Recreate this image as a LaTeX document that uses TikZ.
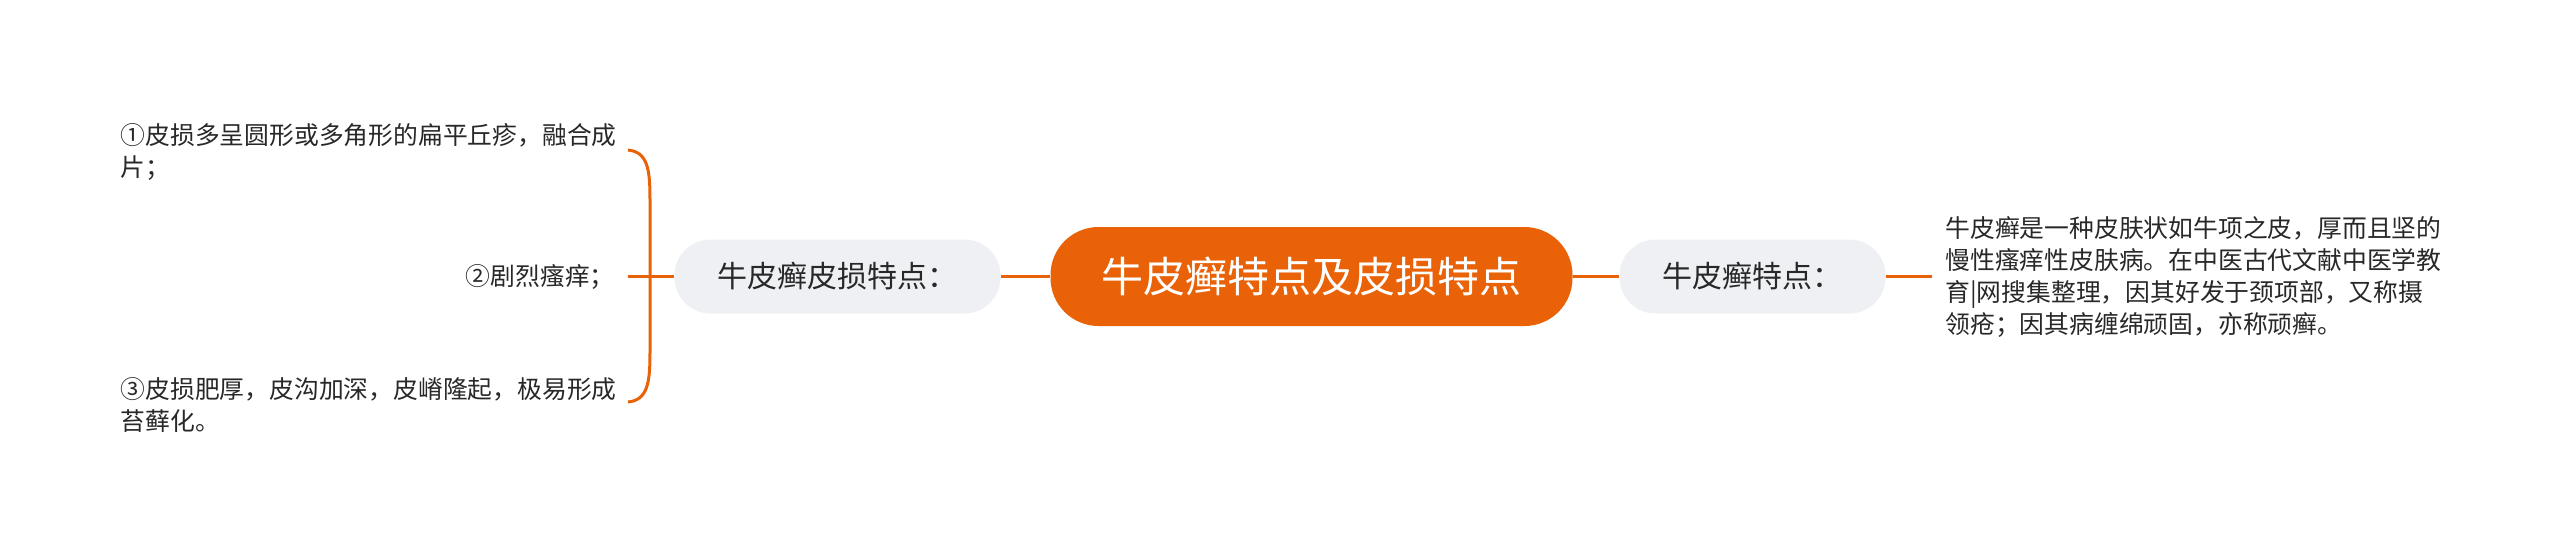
\documentclass[tikz,border=0pt]{standalone}
\usepackage{fontspec}
\usepackage{tikz}
\newfontfamily\cjk{Noto Sans CJK SC}
\definecolor{brand}{RGB}{233,98,8}
\definecolor{pale}{RGB}{238,240,243}
\definecolor{ink}{RGB}{40,40,40}

\begin{document}
\begin{tikzpicture}[x=0.5pt,y=-0.5pt,
    hub/.style={fill=brand, text=white, rounded corners=24pt, minimum height=49.5pt,
      inner xsep=25.5pt, font=\cjk\fontsize{21}{25}\selectfont},
    topic/.style={fill=pale, text=ink, rounded corners=18pt, minimum height=37pt,
      inner xsep=21.5pt, font=\cjk\fontsize{15}{18}\selectfont},
    leaf/.style={text=ink, align=left, inner sep=0pt, font=\cjk\fontsize{12.4}{16}\selectfont},
    link/.style={draw=brand, line width=1.5pt}]
      \useasboundingbox (0,0) rectangle (2560,553);
      \node (main) at (1311.5,276.5) [hub] {牛皮癣特点及皮损特点};
      \node (skin) at (837.5,276.5) [topic] {牛皮癣皮损特点：};
      \node (feat) at (1752.5,276.5) [topic] {牛皮癣特点：};
      \node (s1) at (617,151.5) [leaf, anchor=east] {①皮损多呈圆形或多角形的扁平丘疹，融合成\\片；};
      \node (s2) at (615,276.5) [leaf, anchor=east] {②剧烈瘙痒；};
      \node (s3) at (617,405) [leaf, anchor=east] {③皮损肥厚，皮沟加深，皮嵴隆起，极易形成\\苔藓化。};
      \node (desc) at (1932,276.5) [leaf, anchor=west, inner xsep=6.5pt]
        {牛皮癣是一种皮肤状如牛项之皮，厚而且坚的\\慢性瘙痒性皮肤病。在中医古代文献中医学教\\育|网搜集整理，因其好发于颈项部，又称摄\\领疮；因其病缠绵顽固，亦称顽癣。};
      % bracket on the left
      \coordinate (btop) at (628,150);
      \coordinate (bmid) at (628,276.5);
      \coordinate (bbot) at (628,402);
      \draw[link] (btop) .. controls (648,152) and (650,170) .. (650,200) -- (650,352)
        .. controls (650,382) and (648,400) .. (bbot);
      \draw[link] (skin) -- (bmid);
      \draw[link] (main) -- (skin);
      \draw[link] (main) -- (feat);
      \draw[link] (feat.east) -- (desc.west);
\end{tikzpicture}
\end{document}
